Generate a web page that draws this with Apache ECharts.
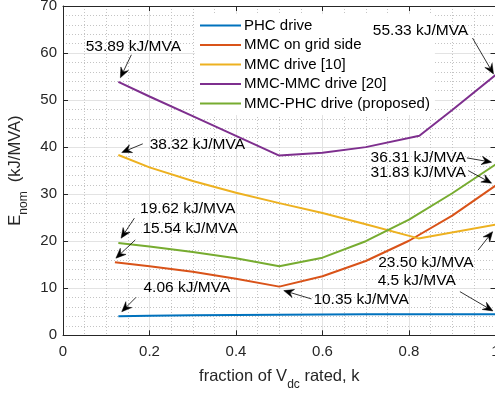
<!DOCTYPE html>
<html><head><meta charset="utf-8">
<script src="https://cdn.jsdelivr.net/npm/echarts@6/dist/echarts.min.js"></script>
<style>html,body{margin:0;padding:0;background:#fff}#c{width:495px;height:394px}</style>
</head><body><div id="c"></div>
<script>
// ---------- data ----------
const seriesNames = ['PHC drive', 'MMC on grid side', 'MMC drive [10]', 'MMC-MMC drive [20]', 'MMC-PHC drive (proposed)'];
const seriesColors = ['#0072BD', '#D95319', '#EDB120', '#7E2F8E', '#77AC30'];

const phcK = [0.128, 0.2, 0.3, 0.4, 0.5, 0.6, 0.7, 0.8, 0.9, 1.0];
const phcV = [4.06, 4.17, 4.26, 4.33, 4.38, 4.42, 4.45, 4.47, 4.49, 4.5];

const gridK = [0.12, 0.2, 0.3, 0.4, 0.5, 0.6, 0.7, 0.8, 0.9, 1.0];
const gridV = [15.54, 14.7, 13.5, 12.0, 10.35, 12.56, 15.8, 20.1, 25.45, 31.83];

const mmcK = [0.128, 0.2, 0.3, 0.4, 0.5, 0.6, 0.7, 0.822, 1.0];
const mmcV = [38.32, 35.7, 32.8, 30.3, 28.1, 26.0, 23.6, 20.6, 23.5];

const mmcmmcK = [0.128, 0.2, 0.3, 0.4, 0.5, 0.6, 0.7, 0.824, 0.9, 1.0];
const mmcmmcV = [53.89, 50.76, 46.58, 42.4, 38.2, 38.8, 40.0, 42.4, 47.9, 55.33];

const proposedK = [0.128, 0.2, 0.3, 0.4, 0.5, 0.6, 0.7, 0.8, 0.9, 1.0];
const proposedV = [19.62, 18.9, 17.7, 16.4, 14.7, 16.5, 20.0, 24.6, 30.2, 36.31];

const xTicks = [0, 0.2, 0.4, 0.6, 0.8, 1];
const yTicks = [0, 10, 20, 30, 40, 50, 60, 70];

const annotTexts = ['53.89 kJ/MVA', '55.33 kJ/MVA', '38.32 kJ/MVA', '36.31 kJ/MVA', '31.83 kJ/MVA',
  '19.62 kJ/MVA', '15.54 kJ/MVA', '23.50 kJ/MVA', '4.5 kJ/MVA', '10.35 kJ/MVA', '4.06 kJ/MVA'];
const annotPoints = [[0.128, 53.89], [1, 55.33], [0.128, 38.32], [1, 36.31], [1, 31.83],
  [0.128, 19.62], [0.12, 15.54], [1, 23.5], [1, 4.5], [0.5, 10.35], [0.128, 4.06]];

// ---------- layout (pixel offsets from the annotated point) ----------
const annotLayout = [
  { text: [15, -35], tail: [13, -27], tip: [2, -4] },
  { text: [-75, -44.5], tail: [-23, -37], tip: [-2, -1] },
  { text: [79, -10.5], tail: [24.4, -11.2], tip: [3.4, -2.5] },
  { text: [-77.3, -6.3], tail: [-28.6, -6.6], tip: [-3.9, -2.3] },
  { text: [-77.3, -12.4], tail: [-27.3, -15], tip: [-3.9, -2.4] },
  { text: [69.4, -34.1], tail: [16, -24.8], tip: [2.7, -4.8] },
  { text: [75.2, -33], tail: [20.4, -22.3], tip: [1, -4] },
  { text: [-69.6, 37.9], tail: [-17.3, 25.2], tip: [-2.9, 6.9] },
  { text: [-78.8, -33.2], tail: [-35.6, -22.5], tip: [-2.6, -3.2] },
  { text: [81.8, 13.3], tail: [32.2, 12.3], tip: [4.5, 4] },
  { text: [68.5, -28.5], tail: [17.7, -18.9], tip: [3.4, -4.5] }
];

const FONT = '"Liberation Sans", Arial, Helvetica, sans-serif';
const pairs = (ks, vs) => ks.map((k, i) => [k, vs[i]]);
const allK = [phcK, gridK, mmcK, mmcmmcK, proposedK];
const allV = [phcV, gridV, mmcV, mmcmmcV, proposedV];

const chart = echarts.init(document.getElementById('c'), null, { renderer: 'canvas' });

const axisCommon = {
  axisLine: { show: true, onZero: false, lineStyle: { color: '#262626', width: 1 } },
  axisTick: { show: true, inside: true, length: 5, lineStyle: { color: '#262626' } },
};
const minorGrid = { show: true, lineStyle: { color: '#c4c4c4', width: 1, type: [1, 2] } };

const option = {
  animation: false,
  backgroundColor: '#fff',
  grid: { left: 63, top: 6, width: 432.5, height: 329.3, containLabel: false, outerBoundsMode: 'none' },
  legend: {
    orient: 'vertical', left: 195, top: 14, padding: [4, 5, 4, 5],
    backgroundColor: '#fff', itemWidth: 41, itemHeight: 2, itemGap: 4.5,
    icon: 'rect',
    textStyle: { fontFamily: FONT, fontSize: 15, color: '#000', padding: [0, 0, 0, -2] },
    data: seriesNames
  },
  xAxis: [
    Object.assign({
      type: 'value', min: xTicks[0], max: xTicks[xTicks.length - 1], interval: 0.2,
      position: 'bottom',
      axisLabel: { fontFamily: FONT, fontSize: 15, color: '#262626', margin: 9 },
      splitLine: { show: true, lineStyle: { color: '#e3e3e3', width: 1 } },
      minorTick: { show: true, splitNumber: 4, length: 0, lineStyle: { opacity: 0 } },
      minorSplitLine: minorGrid,
      name: '{a|fraction of V}{b|dc}{a| rated, k}',
      nameLocation: 'middle', nameGap: 33,
      nameTextStyle: {
        fontFamily: FONT, color: '#262626',
        rich: {
          a: { fontFamily: FONT, fontSize: 16.5, color: '#262626', lineHeight: 22, verticalAlign: 'top' },
          b: { fontFamily: FONT, fontSize: 12, color: '#262626', lineHeight: 14, verticalAlign: 'bottom' }
        }
      }
    }, axisCommon),
    Object.assign({
      type: 'value', min: xTicks[0], max: xTicks[xTicks.length - 1], interval: 0.2,
      position: 'top', axisLabel: { show: false }, splitLine: { show: false }
    }, axisCommon)
  ],
  yAxis: [
    Object.assign({
      type: 'value', min: yTicks[0], max: yTicks[yTicks.length - 1], interval: 10,
      position: 'left',
      axisLabel: { fontFamily: FONT, fontSize: 15, color: '#262626', margin: 6 },
      splitLine: { show: true, lineStyle: { color: '#e3e3e3', width: 1 } },
      minorTick: { show: true, splitNumber: 5, length: 0, lineStyle: { opacity: 0 } },
      minorSplitLine: minorGrid,
      name: '{a|E}{b|nom}{a|  (kJ/MVA)}',
      nameLocation: 'middle', nameGap: 32,
      nameTextStyle: {
        fontFamily: FONT, color: '#262626',
        rich: {
          a: { fontFamily: FONT, fontSize: 16.5, color: '#262626', lineHeight: 22, verticalAlign: 'top' },
          b: { fontFamily: FONT, fontSize: 12, color: '#262626', lineHeight: 14, verticalAlign: 'bottom' }
        }
      }
    }, axisCommon),
    Object.assign({
      type: 'value', min: yTicks[0], max: yTicks[yTicks.length - 1], interval: 10,
      position: 'right', axisLabel: { show: false }, splitLine: { show: false }
    }, axisCommon)
  ],
  series: seriesNames.map((n, i) => ({
    name: n, type: 'line', xAxisIndex: 0, yAxisIndex: 0,
    data: pairs(allK[i], allV[i]),
    showSymbol: false, symbol: 'none', smooth: false, clip: false,
    lineStyle: { color: seriesColors[i], width: 2 },
    itemStyle: { color: seriesColors[i] },
    z: 3
  }))
};
chart.setOption(option);

// ---------- annotations with arrows ----------
const graphics = [];
annotTexts.forEach((t, i) => {
  const p = chart.convertToPixel({ gridIndex: 0 }, annotPoints[i]);
  const L = annotLayout[i];
  const tx = p[0] + L.text[0], ty = p[1] + L.text[1];
  const ax = p[0] + L.tail[0], ay = p[1] + L.tail[1];
  const bx = p[0] + L.tip[0], by = p[1] + L.tip[1];
  const dx = bx - ax, dy = by - ay, len = Math.hypot(dx, dy);
  const ux = dx / len, uy = dy / len, nx = -uy, ny = ux;
  const HL = 10, HW = 4.2, HN = 6.5;
  graphics.push({
    type: 'line', silent: true, z: 100,
    shape: { x1: ax, y1: ay, x2: bx - ux * HN, y2: by - uy * HN },
    style: { stroke: '#000', lineWidth: 0.8 }
  });
  graphics.push({
    type: 'polygon', silent: true, z: 100,
    shape: { points: [[bx, by], [bx - ux * HL + nx * HW, by - uy * HL + ny * HW], [bx - ux * HN, by - uy * HN], [bx - ux * HL - nx * HW, by - uy * HL - ny * HW]] },
    style: { fill: '#000', stroke: '#000', lineWidth: 0.5 }
  });
  graphics.push({
    type: 'text', silent: true, z: 100, x: tx, y: ty,
    style: { text: t, font: '15.5px ' + FONT, fill: '#000', align: 'center', verticalAlign: 'middle' }
  });
});
chart.setOption({ graphic: graphics });
</script>
</body></html>
